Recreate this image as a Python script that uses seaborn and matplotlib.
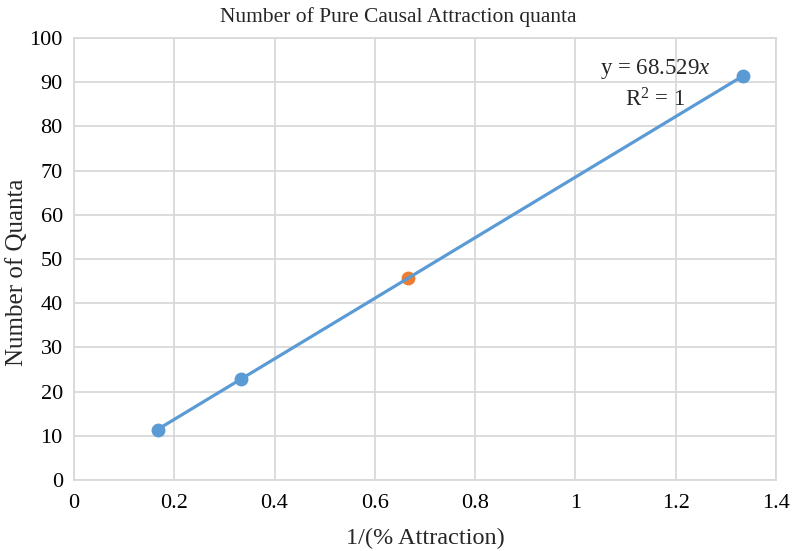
import matplotlib
matplotlib.use("Agg")
import matplotlib.pyplot as plt
import seaborn as sns
import numpy as np
import pandas as pd

# Data
x_blue = [1/6, 1/3, 4/3]
y_blue = [11.42, 22.84, 91.37]
x_orange = [2/3]
y_orange = [45.69]
slope = 68.529
x_ticks = [0, 0.2, 0.4, 0.6, 0.8, 1, 1.2, 1.4]
x_tick_labels = ["0", "0.2", "0.4", "0.6", "0.8", "1", "1.2", "1.4"]
y_ticks = [0, 10, 20, 30, 40, 50, 60, 70, 80, 90, 100]

sns.set_theme(style="whitegrid")
plt.rcParams['font.family'] = ['Liberation Serif', 'DejaVu Serif']
plt.rcParams['mathtext.fontset'] = 'custom'
plt.rcParams['mathtext.rm'] = 'Liberation Serif'
plt.rcParams['mathtext.it'] = 'Liberation Serif:italic'

fig = plt.figure(figsize=(7.97, 5.51), dpi=100)
ax = fig.add_axes([0.0928, 0.1289, 0.8809, 0.8021])

blue = "#5B9BD5"
orange = "#ED7D31"

trend_x = np.array([min(x_blue + x_orange), max(x_blue + x_orange)])
trend_df = pd.DataFrame({"x": trend_x, "y": slope * trend_x})
df_b = pd.DataFrame({"x": x_blue, "y": y_blue})
df_o = pd.DataFrame({"x": x_orange, "y": y_orange})

sns.scatterplot(data=df_b, x="x", y="y", ax=ax, color=blue, s=100, edgecolor=blue, linewidth=0, zorder=4)
sns.scatterplot(data=df_o, x="x", y="y", ax=ax, color=orange, s=100, edgecolor=orange, linewidth=0, zorder=3)
sns.lineplot(data=trend_df, x="x", y="y", ax=ax, color=blue, linewidth=2.3, zorder=3.5)

ax.set_xlim(0, 1.4)
ax.set_ylim(0, 100)
ax.set_xticks(x_ticks)
ax.set_xticklabels(x_tick_labels)
ax.set_yticks(y_ticks)
ax.tick_params(axis='both', labelsize=16, colors='black', length=0)
ax.tick_params(axis='x', pad=10)
ax.tick_params(axis='y', pad=8)
ax.grid(True, color="#D9D9D9", linewidth=1.3)
for s in ax.spines.values():
    s.set_color("#D9D9D9")
    s.set_linewidth(1.3)

fig.text(0.5, 1 - 17 / 551, "Number of Pure Causal Attraction quanta", fontsize=15.5,
         ha='center', va='center')
ax.set_xlabel("1/(% Attraction)", fontsize=17.5, labelpad=11)
ax.set_ylabel("Number of Quanta", fontsize=18)
ax.yaxis.set_label_coords(-0.066, 0.47)

ax.text(1.159, 93.0, "y = 68.529$\\mathit{x}$", fontsize=16.5, ha='center', va='center')
ax.text(1.159, 86.0, "R$^2$ = 1", fontsize=16.5, ha='center', va='center')

fig.savefig("out.png", dpi=100)
